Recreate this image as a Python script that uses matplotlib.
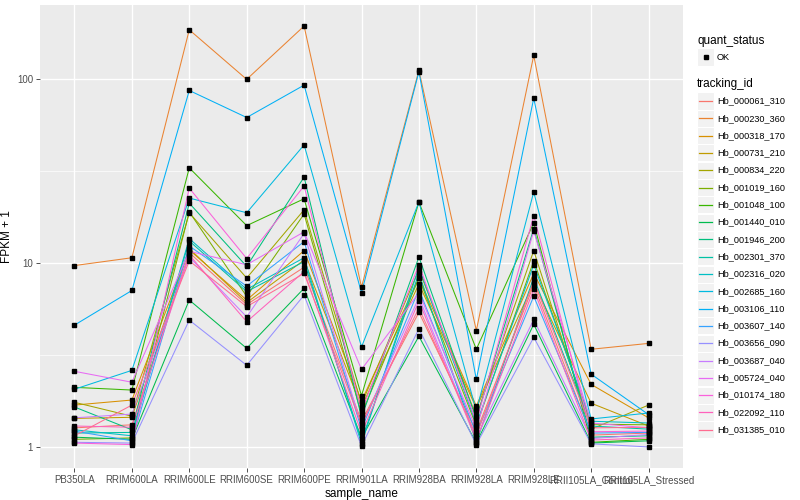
import numpy as np
import matplotlib
matplotlib.use("Agg")
import matplotlib.pyplot as plt
from matplotlib.patches import Rectangle
from matplotlib.lines import Line2D

plt.rcParams['font.family'] = ['Liberation Sans', 'DejaVu Sans']

samples = ["PB350LA", "RRIM600LA", "RRIM600LE", "RRIM600SE", "RRIM600PE", "RRIM901LA",
           "RRIM928BA", "RRIM928LA", "RRIM928LE", "RRII105LA_Control", "RRII105LA_Stressed"]

tracking_ids = ["Hb_000061_310", "Hb_000230_360", "Hb_000318_170", "Hb_000731_210",
                "Hb_000834_220", "Hb_001019_160", "Hb_001048_100", "Hb_001440_010",
                "Hb_001946_200", "Hb_002301_370", "Hb_002316_020", "Hb_002685_160",
                "Hb_003106_110", "Hb_003607_140", "Hb_003656_090", "Hb_003687_040",
                "Hb_005724_040", "Hb_010174_180", "Hb_022092_110", "Hb_031385_010"]

hb_000061_310 = [1.27, 1.32, 11.4, 5.95, 9.5, 1.38, 5.4, 1.21, 7.6, 1.16, 1.19]
hb_000230_360 = [9.7, 10.7, 186, 100, 195, 7.4, 112, 4.3, 135, 3.4, 3.66]
hb_000318_170 = [1.69, 1.8, 11.8, 6.3, 11.7, 1.78, 8.3, 1.67, 8.8, 2.19, 1.44]
hb_000731_210 = [1.43, 1.45, 12.0, 6.1, 10.4, 1.65, 7.7, 1.63, 7.8, 1.73, 1.30]
hb_000834_220 = [1.75, 1.47, 18.8, 8.3, 19.5, 1.71, 9.2, 1.47, 11.7, 1.25, 1.69]
hb_001019_160 = [1.10, 1.12, 19.0, 6.6, 18.5, 1.51, 8.3, 1.30, 10.3, 1.33, 1.32]
hb_001048_100 = [2.11, 2.04, 33, 16.0, 22.4, 1.9, 21.5, 3.4, 16.6, 1.06, 1.10]
hb_001440_010 = [1.13, 1.10, 6.3, 3.44, 7.3, 1.12, 4.0, 1.05, 4.65, 1.05, 1.08]
hb_001946_200 = [1.65, 1.24, 21.2, 9.6, 29.4, 1.45, 10.8, 1.42, 15.4, 1.13, 1.15]
hb_002301_370 = [1.19, 1.20, 13.2, 7.0, 10.2, 1.08, 8.8, 1.06, 8.35, 1.30, 1.25]
hb_002316_020 = [1.24, 1.15, 13.6, 7.2, 10.7, 1.04, 9.5, 1.33, 9.8, 1.38, 1.35]
hb_002685_160 = [2.06, 2.61, 22.6, 18.8, 44, 3.5, 21.5, 1.57, 24.4, 1.42, 1.53]
hb_003106_110 = [4.6, 7.1, 87, 62, 93, 6.9, 110, 2.33, 79, 2.49, 1.50]
hb_003607_140 = [1.22, 1.08, 12.4, 7.5, 13.1, 1.25, 7.2, 1.18, 6.6, 1.19, 1.20]
hb_003656_090 = [1.06, 1.05, 4.9, 2.78, 6.7, 1.01, 4.4, 1.03, 3.95, 1.04, 1.0]
hb_003687_040 = [1.44, 1.51, 10.8, 5.1, 14.5, 1.30, 6.5, 1.12, 4.94, 1.11, 1.17]
hb_005724_040 = [2.58, 2.25, 11.6, 9.8, 14.8, 2.64, 6.9, 1.25, 14.97, 1.35, 1.27]
hb_010174_180 = [1.05, 1.03, 25.6, 10.6, 26.3, 1.57, 9.8, 1.37, 18.1, 1.21, 1.22]
hb_022092_110 = [1.30, 1.28, 11.1, 4.8, 9.0, 1.19, 6.2, 1.09, 7.2, 1.09, 1.12]
hb_031385_010 = [1.15, 1.69, 10.3, 5.8, 8.8, 1.33, 5.7, 1.15, 8.0, 1.27, 1.28]

series = [hb_000061_310, hb_000230_360, hb_000318_170, hb_000731_210, hb_000834_220,
          hb_001019_160, hb_001048_100, hb_001440_010, hb_001946_200, hb_002301_370,
          hb_002316_020, hb_002685_160, hb_003106_110, hb_003607_140, hb_003656_090,
          hb_003687_040, hb_005724_040, hb_010174_180, hb_022092_110, hb_031385_010]

colors = ["#F8766D", "#EA8331", "#D89000", "#C09B00", "#A3A500", "#7CAE00", "#39B600",
          "#00BB4E", "#00BF7D", "#00C1A3", "#00BFC4", "#00BAE0", "#00B0F6", "#35A2FF",
          "#9590FF", "#C77CFF", "#E76BF3", "#FA62DB", "#FF62BC", "#FF6C91"]

W, H = 800, 500
fig = plt.figure(figsize=(8, 5), dpi=100)
ax = fig.add_axes([40 / W, 1 - 468 / H, (683 - 40) / W, (468 - 5) / H])
ax.set_facecolor("#EBEBEB")
for s in ax.spines.values():
    s.set_visible(False)

x = np.arange(len(samples))
for vals, c in zip(series, colors):
    ax.plot(x, vals, color=c, lw=0.75, zorder=3)
for vals in series:
    ax.plot(x, vals, ls="none", marker="s", ms=2.4, color="black", zorder=4)

ax.set_yscale("log")
allv = np.log10(np.concatenate([np.array(v, float) for v in series]))
lo, hi = allv.min(), allv.max()
pad = 0.05 * (hi - lo)
ax.set_ylim(10 ** (lo - pad), 10 ** (hi + pad))
ax.set_xlim(-0.6, len(samples) - 0.4)

ax.set_yticks([1, 10, 100])
ax.set_yticklabels(["1", "10", "100"])
ax.set_yticks([10 ** 0.5, 10 ** 1.5], minor=True)
ax.yaxis.set_minor_formatter(matplotlib.ticker.NullFormatter())
ax.set_xticks(x)
ax.set_xticklabels(samples)
ax.tick_params(axis="both", which="major", length=3, width=0.6, color="#333333",
               labelcolor="#4D4D4D", labelsize=7, pad=2)
ax.tick_params(axis="y", which="minor", length=0)
ax.grid(True, which="major", color="white", lw=1.0, zorder=1)
ax.grid(True, which="minor", axis="y", color="white", lw=0.5, zorder=1)
ax.set_axisbelow(True)

ax.set_xlabel("sample_name", fontsize=8.5, labelpad=2)
ax.set_ylabel("FPKM + 1", fontsize=8.5)
ax.yaxis.set_label_coords(-27 / 643, 0.5)

# legend (drawn manually in pixel coordinates)
def fx(px):
    return px / W

def fy(py):
    return 1 - py / H

fig.text(fx(697), fy(41), "quant_status", fontsize=8.5, va="center", ha="left")
fig.add_artist(Rectangle((fx(697), fy(65.5)), 17 / W, 17 / H, facecolor="#F2F2F2",
                         edgecolor="white", lw=0.8, transform=fig.transFigure))
fig.add_artist(Line2D([fx(705.5)], [fy(57)], marker="s", ms=2.4, color="black",
                      transform=fig.transFigure))
fig.text(fx(717), fy(57), "OK", fontsize=6.6, va="center", ha="left")

fig.text(fx(697), fy(84), "tracking_id", fontsize=8.5, va="center", ha="left")
for i, (tid, c) in enumerate(zip(tracking_ids, colors)):
    yc = 101 + i * 17.3
    fig.add_artist(Rectangle((fx(697), fy(yc + 8.5)), 17 / W, 17 / H, facecolor="#F2F2F2",
                             edgecolor="white", lw=0.8, transform=fig.transFigure))
    fig.add_artist(Line2D([fx(699), fx(712)], [fy(yc), fy(yc)], color=c, lw=0.9,
                          transform=fig.transFigure))
    fig.text(fx(717), fy(yc), tid, fontsize=6.6, va="center", ha="left")

fig.savefig("out.png", dpi=100)
